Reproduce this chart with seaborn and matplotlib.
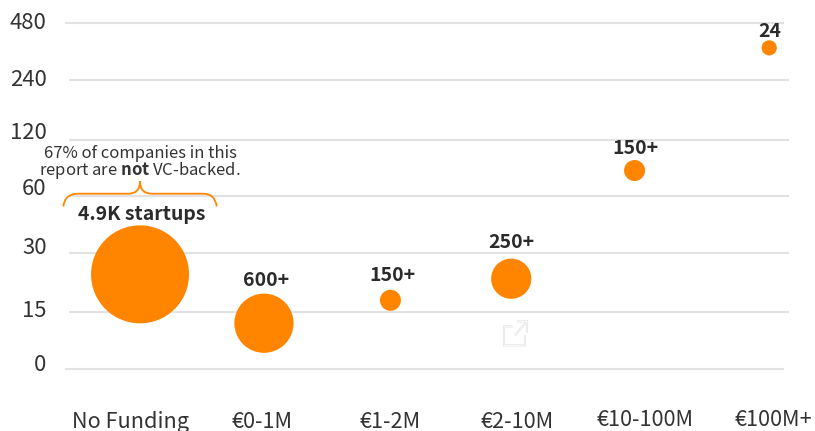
import matplotlib
matplotlib.use('Agg')
import matplotlib.pyplot as plt
import pandas as pd
import seaborn as sns
from matplotlib.patches import PathPatch
from matplotlib.path import Path
from matplotlib.transforms import Affine2D, blended_transform_factory

# values
categories = ['No Funding', '€0-1M', '€1-2M', '€2-10M', '€10-100M', '€100M+']
bubble_x = [0, 0.985, 1.99, 2.95, 3.93, 5]
bubble_y = [23.5, 12, 17.2, 22.3, 81.9, 358]
bubble_area = [4900, 1790, 225, 825, 225, 118]
bubble_labels = ['4.9K startups', '600+', '150+', '250+', '150+', '24']
y_ticks = [0, 15, 30, 60, 120, 240, 480]

ORANGE = '#ff8400'
TEXT = '#333333'
FONT = 'Noto Sans CJK JP'
W, H = 815, 431

sns.set_theme(style='white')
plt.rcParams['font.family'] = [FONT, 'DejaVu Sans']
plt.rcParams['mathtext.fontset'] = 'custom'
plt.rcParams['mathtext.rm'] = FONT
plt.rcParams['mathtext.bf'] = FONT + ':bold'

fig = plt.figure(figsize=((W + 0.2) / 100, (H + 0.2) / 100), dpi=100)
ax = fig.add_axes([0, 0, 1, 1])
ax.patch.set_alpha(0)

df = pd.DataFrame({'x': bubble_x, 'y': bubble_y, 'area': bubble_area})
sns.scatterplot(data=df, x='x', y='y', size='area', sizes=(0, 4979), size_norm=(0, 4900),
                color=ORANGE, linewidth=0, alpha=1, legend=False, clip_on=False, zorder=3, ax=ax)

ax.set_yscale('symlog', base=2, linthresh=15, linscale=0.5)
ax.set_xlim(-140 / 125.8, (W - 140) / 125.8)
ax.set_ylim(-15.74, 15 * 2 ** 5.41)
ax.set_xlabel('')
ax.set_ylabel('')
sns.despine(ax=ax, left=True, bottom=True)
ax.minorticks_off()
ax.tick_params(length=0)
ax.grid(False)

# pixel coords of the picture, y going down
px = Affine2D().scale(1, -1).translate(0, H - 1.4)

# gridlines, the original ones are a little uneven
grid_nudge = [0, 0.5, -1.1, 0, 1.6, -1.1, 0]
grid_x = [(65, 784), (69, 789), (69, 789), (69, 789), (69, 789), (69, 789), (65, 784)]
for v, nudge, (x0, x1) in zip(y_ticks, grid_nudge, grid_x):
    tr = blended_transform_factory(Affine2D(), ax.transData + Affine2D().translate(0, -nudge))
    ax.plot([x0, x1], [v, v], transform=tr, color='#e2e2e2', lw=1.5, zorder=1, solid_capstyle='butt')

# y tick labels sit a bit above their lines, not evenly
ax.set_yticks(y_ticks)
ax.set_yticklabels([])
y_text_px = [363.6, 309, 246, 187.3, 131, 78, 21]
for v, yp in zip(y_ticks, y_text_px):
    ax.text(46.7, yp, str(v), transform=px, ha='right', va='center', fontsize=15.9, color=TEXT)

# x labels
ax.set_xticks([])
x_text_px = [131, 262, 390, 517, 645, 773]
x_text_y = [420, 420, 420, 420, 418, 418]
for name, xp, yp in zip(categories, x_text_px, x_text_y):
    ax.text(xp, yp, name, transform=px, ha='center', va='center', fontsize=15.6, color=TEXT)

# bubble labels
label_xy = [(141.7, 212.7), (266.3, 279.3), (392.7, 274.3), (511.7, 241.3), (635, 147.3), (769.7, 30)]
for lab, (xp, yp) in zip(bubble_labels, label_xy):
    ax.text(xp, yp, lab, transform=px, ha='center', va='center', fontsize=14, fontweight='bold', color='#2b2b2b')

# note and brace over the first bubble
ax.text(140, 151.7, '67% of companies in this', transform=px, ha='center', va='center', fontsize=12, color=TEXT)
ax.text(140, 168.6, r'report are $\mathbf{not}$ VC-backed.', transform=px, ha='center', va='center', fontsize=12, color=TEXT)

brace = Path(
    [(63.3, 205), (65, 192.3), (78, 192.3), (128, 192.3), (140, 192.3), (140, 180),
     (140, 192.3), (152, 192.3), (203, 192.3), (215, 192.3), (216.7, 205)],
    [Path.MOVETO, Path.CURVE3, Path.CURVE3, Path.LINETO, Path.CURVE3, Path.CURVE3,
     Path.CURVE3, Path.CURVE3, Path.LINETO, Path.CURVE3, Path.CURVE3])
ax.add_patch(PathPatch(brace, fc='none', ec=ORANGE, lw=1.3, transform=px, clip_on=False))

# faint share icon, hollow outline
icon = Path(
    [(513, 325), (504, 325), (504, 344), (525, 344), (525, 334), (515, 334), (526.7, 320), (517, 320), (527, 320), (527, 331)],
    [Path.MOVETO, Path.LINETO, Path.LINETO, Path.LINETO, Path.LINETO, Path.MOVETO, Path.LINETO, Path.MOVETO, Path.LINETO, Path.LINETO])
ax.add_patch(PathPatch(icon, fc='none', ec='#e2e2e2', lw=1.5, transform=px, clip_on=False))
ax.add_patch(PathPatch(icon, fc='none', ec='white', lw=0.5, transform=px, clip_on=False))

fig.savefig('out.png', dpi=100)
